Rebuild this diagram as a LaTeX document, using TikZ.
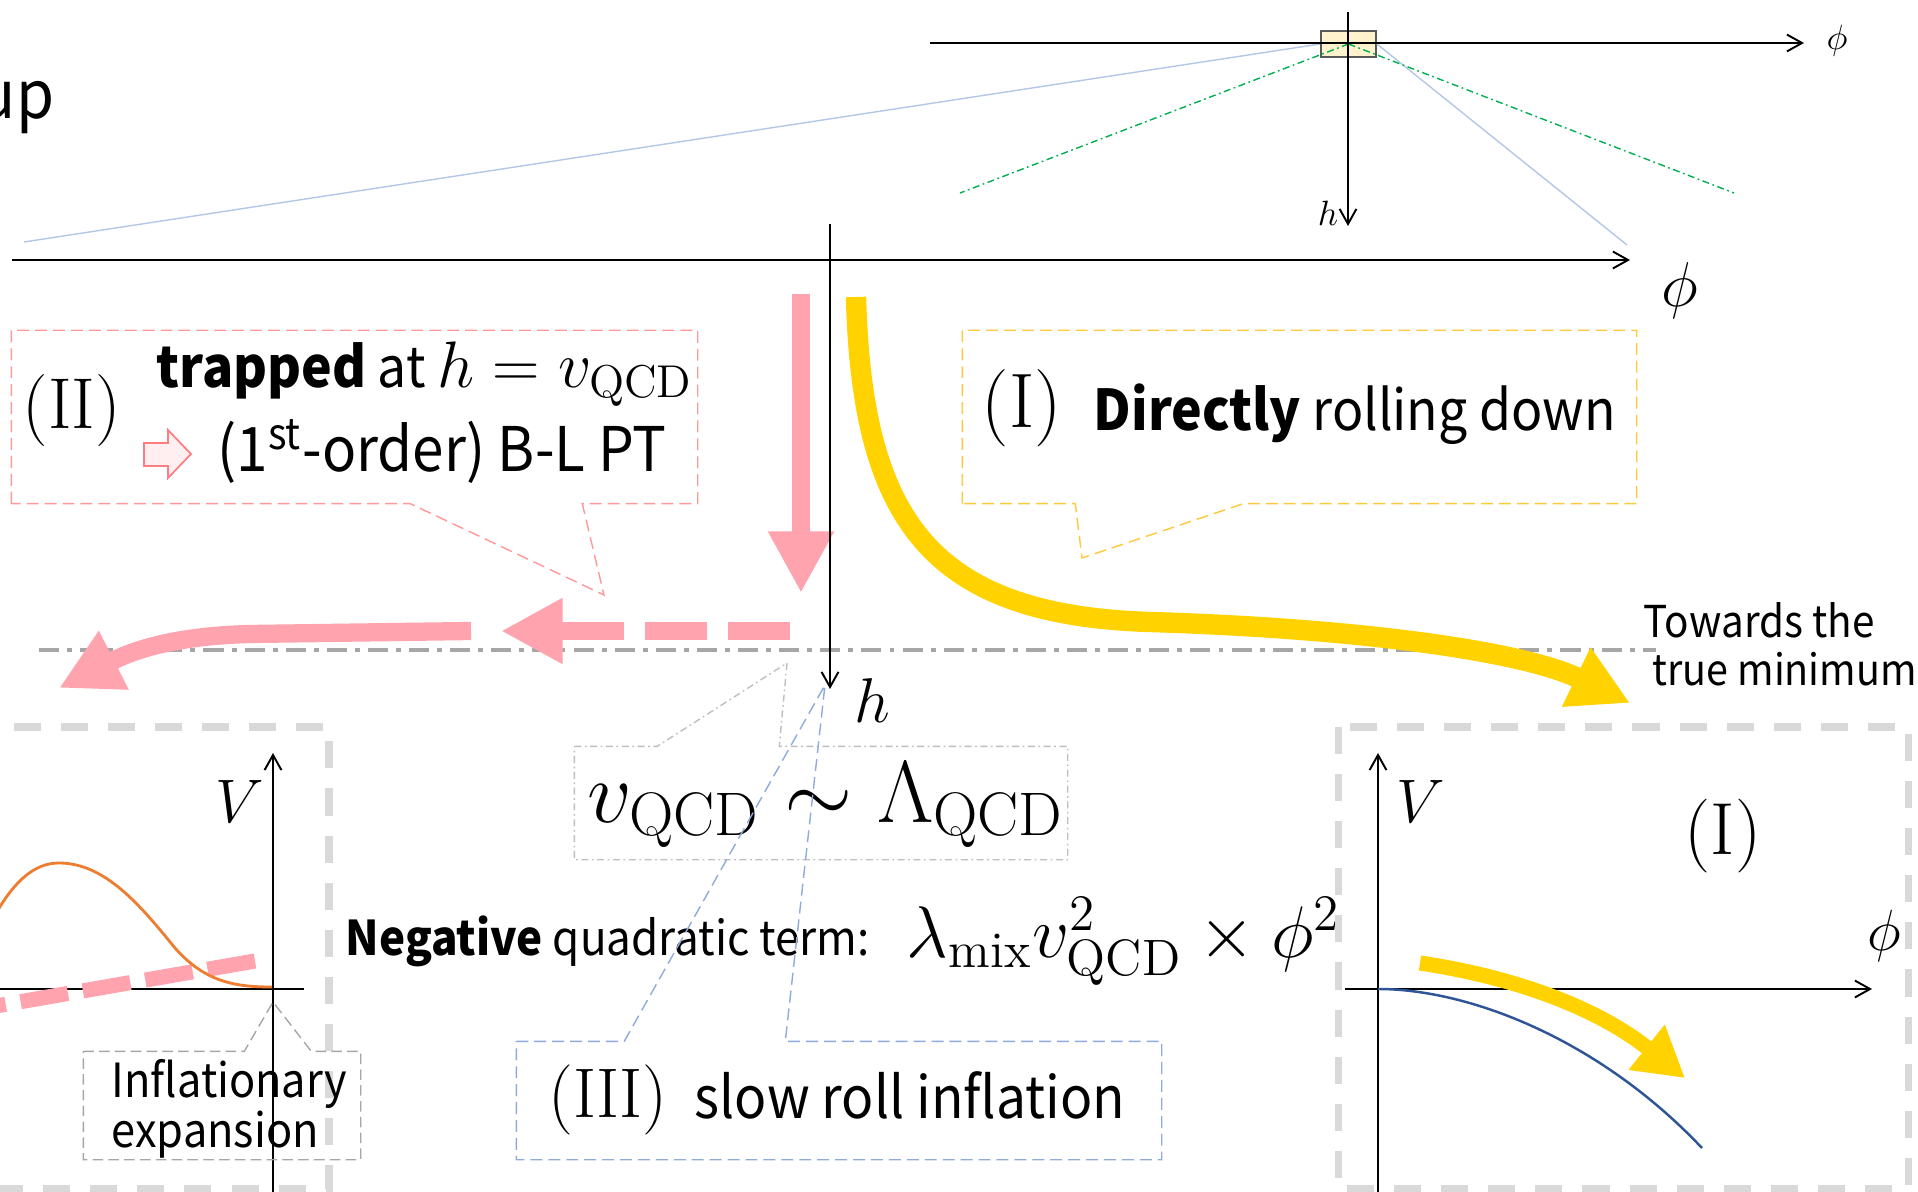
\RequirePackage{fix-cm}
\documentclass[tikz,border=0pt]{standalone}
\usepackage{fontspec}
\newfontfamily\jpsans{Noto Sans CJK JP}[FakeStretch=0.92]
\usetikzlibrary{arrows.meta}

\definecolor{inflrose}{HTML}{FFA3AF}
\definecolor{inflrosebord}{HTML}{FF9999}
\definecolor{inflrosevif}{HTML}{FF7C80}
\definecolor{inflrosepale}{HTML}{FFEFF1}
\definecolor{infljaune}{HTML}{FFD200}
\definecolor{infljaunebord}{HTML}{FFC93C}
\definecolor{inflbleu}{HTML}{8FAADC}
\definecolor{inflbleuclair}{HTML}{B4C7E7}
\definecolor{inflbleufonce}{HTML}{2F5597}
\definecolor{inflvert}{HTML}{00B050}
\definecolor{inflorange}{HTML}{ED7D31}
\definecolor{inflgris}{HTML}{A6A6A6}
\definecolor{inflgrisclair}{HTML}{D9D9D9}
\definecolor{inflgrismoyen}{HTML}{BFBFBF}
\definecolor{inflgrisfonce}{HTML}{595959}
\definecolor{inflcreme}{HTML}{FFF2CC}

\tikzset{
  axe/.style={line width=0.55pt, -{Straight Barb[length=4.3pt,width=4.8pt]}},
  flecherose/.style={draw=inflrose, line width=5.2pt, -{Triangle[length=17.5pt,width=17.5pt]}},
  flechejaune/.style={draw=infljaune, line width=5.8pt, -{Triangle[length=17pt,width=17.5pt]}},
  bulle/.style={draw=none, inner sep=0pt},
  cadre/.style={draw=inflgrisclair, line width=2pt, dash pattern=on 7.7pt off 5.7pt},
  sans/.style={font=\jpsans\fontsize{#1}{#1}\selectfont, inner sep=0pt},
  formule/.style={font=\fontsize{#1}{#1}\selectfont},
}

\begin{document}
\begin{tikzpicture}[x=0.1mm, y=-0.1mm]
\useasboundingbox (0,0) rectangle (1918,1192);
\clip (0,0) rectangle (1918,1192);
\fill[white] (0,0) rectangle (1918,1192);

\node[sans=19, anchor=base east] (titre) at (55,119) {up};

\node[draw=inflgrisfonce, fill=inflcreme, line width=0.5pt, minimum width=5.5mm, minimum height=2.6mm, inner sep=0pt] (loupe) at (1348.5,44) {};
\coordinate (coinG) at (24,242);
\coordinate (coinD) at (1627,245);
\coordinate (pointeG) at (960,193);
\coordinate (pointeD) at (1734,193);
\draw[inflbleuclair, line width=0.4pt] (loupe.west) -- (coinG) (loupe.east) -- (coinD);
\draw[inflvert, line width=0.4pt, dash pattern=on 2pt off 1pt on 0.5pt off 1pt] (loupe.center) -- (pointeG) (loupe.center) -- (pointeD);
\draw[axe] (930,43) -- (1804,43);
\draw[axe] (1348,12) -- (1348,226);
\node[formule=10] (phiH) at (1837,41) {$\phi$};
\node[formule=10] (hH) at (1328,213) {$h$};

\draw[inflgris, line width=1.2pt, dash pattern=on 5.7pt off 2.3pt on 1.4pt off 2.3pt] (39,650) -- (1656,650);

\node[bulle, minimum width=68.5mm, minimum height=17.2mm] (bulleII) at (354.5,417) {};
\coordinate (cibleII) at (604,595);
\draw[inflrosebord, line width=0.4pt, dash pattern=on 3.4pt off 1.7pt] (bulleII.south west) -- (bulleII.north west) -- (bulleII.north east) -- (bulleII.south east) -- ([xshift=57.1mm]bulleII.south west) -- (cibleII) -- ([xshift=39.9mm]bulleII.south west) -- cycle;
\node[formule=20.5, anchor=base west, inner sep=0pt] (numII) at (22,429) {$(\mathrm{II})$};
\node[sans=16, anchor=base west] (piege) at (156,388) {\textbf{trapped} at \fontsize{18.7}{18.7}\selectfont$h = v_{\mathrm{QCD}}$};
\draw[inflrosevif, fill=inflrosepale, line width=0.5pt] (144,443) -- (168,443) -- (168,430) -- (191,454) -- (168,478) -- (168,466) -- (144,466) -- cycle;
\node[sans=17.5, anchor=base west] (transition) at (217,472) {(1\textsuperscript{st}-order) B-L PT};

\node[bulle, minimum width=67.3mm, minimum height=17.2mm] (bulleI) at (1299.5,417) {};
\coordinate (cibleI) at (1082,558);
\draw[infljaunebord, line width=0.4pt, dash pattern=on 3.4pt off 1.7pt] (bulleI.south west) -- (bulleI.north west) -- (bulleI.north east) -- (bulleI.south east) -- ([xshift=28.1mm]bulleI.south west) -- (cibleI) -- ([xshift=11.3mm]bulleI.south west) -- cycle;
\node[formule=22, anchor=base west, inner sep=0pt] (numI) at (981,428) {$(\mathrm{I})$};
\node[sans=16, anchor=base west] (roule) at (1093,431) {\textbf{Directly} rolling down};

\node[sans=12.5, anchor=base west] (versA) at (1643,638) {Towards the};
\node[sans=12.2, anchor=base west] (versB) at (1652,685) {true minimum};

\node[bulle, minimum width=49.2mm, minimum height=11.2mm] (echelle) at (821,803) {};
\coordinate (cibleV) at (787,663);
\draw[inflgrismoyen, line width=0.4pt, dash pattern=on 2pt off 1pt on 0.5pt off 1pt] (echelle.north west) -- ([xshift=8.3mm]echelle.north west) -- (cibleV) -- ([xshift=20.5mm]echelle.north west) -- (echelle.north east) -- (echelle.south east) -- (echelle.south west) -- cycle;
\node[formule=25, anchor=base west, inner sep=0pt] (egal) at (587,822) {$v_{\mathrm{QCD}}\sim\Lambda_{\mathrm{QCD}}$};

\node[sans=13.6, anchor=base west] (terme) at (345,955) {\textbf{Negative} quadratic term:};
\node[formule=20.8, anchor=base west, inner sep=0pt] (melange) at (906,957) {$\lambda_{\mathrm{mix}}v_{\mathrm{QCD}}^2\times\phi^2$};

\node[bulle, minimum width=64.4mm, minimum height=11.7mm] (bulleIII) at (839,1100.5) {};
\coordinate (cibleIII) at (825,685);
\draw[inflbleu, line width=0.4pt, dash pattern=on 3.4pt off 1.7pt] (bulleIII.north west) -- ([xshift=10.8mm]bulleIII.north west) -- (cibleIII) -- ([xshift=26.9mm]bulleIII.north west) -- (bulleIII.north east) -- (bulleIII.south east) -- (bulleIII.south west) -- cycle;
\node[formule=20, anchor=base west, inner sep=0pt] (numIII) at (548,1117) {$(\mathrm{III})$};
\node[sans=16.5, anchor=base west] (lent) at (694,1118) {slow roll inflation};

\coordinate (departR) at (801,294);
\coordinate (fondR) at (801,593);
\draw[flecherose] (departR) -- (fondR);
\draw[flecherose, dash pattern=on 17.6pt off 6pt] (790,631) -- (501,631);
\draw[flecherose] (471,631) -- (250,634) .. controls (170,636) and (130,652) .. (59,688);
\draw[flechejaune] (856,297) .. controls (862,520) and (930,615) .. (1150,622) .. controls (1350,628) and (1520,650) .. (1630,703);

\draw[axe] (12,260) -- (1630,260);
\draw[axe] (830,224) -- (830,689);
\node[formule=18] (phiG) at (1680,291) {$\phi$};
\node[formule=18, inner sep=0pt] (hG) at (872,701) {$h$};

\draw[cadre] (-60,727) rectangle (329,1189);
\draw[line width=0.55pt] (-10,989) -- (304,989);
\draw[axe] (273,1200) -- (273,753);
\node[formule=17.5] (VG) at (240,801) {$V$};
\draw[inflrose, line width=4.3pt, dash pattern=on 13.7pt off 4.3pt] (255,961) -- (-10,1007);
\draw[inflorange, line width=0.8pt] (-5,915) .. controls (15,880) and (35,863) .. (59,863) .. controls (105,863) and (140,905) .. (175,948) .. controls (205,982) and (235,987) .. (272,987);
\node[bulle, minimum width=27.6mm, minimum height=10.7mm] (bulleInf) at (222,1105.5) {};
\coordinate (origineG) at (273,1002);
\draw[inflgris, line width=0.4pt, dash pattern=on 3pt off 1.5pt] (bulleInf.north west) -- ([xshift=16.1mm]bulleInf.north west) -- (origineG) -- ([xshift=22.8mm]bulleInf.north west) -- (bulleInf.north east) -- (bulleInf.south east) -- (bulleInf.south west) -- cycle;
\node[sans=13.4, anchor=base west] (expA) at (111,1097) {Inflationary};
\node[sans=13.4, anchor=base west] (expB) at (111,1147) {expansion};

\draw[cadre] (1338,727) rectangle (1908,1189);
\draw[axe] (1345,989) -- (1872,989);
\draw[axe] (1378,1200) -- (1378,753);
\node[formule=17.5] (VD) at (1421,801) {$V$};
\node[formule=16.5] (phiD) at (1884,936) {$\phi$};
\node[formule=21] (numID) at (1723,836) {$(\mathrm{I})$};
\draw[inflbleufonce, line width=0.7pt] (1378,989) .. controls (1470,989) and (1600,1040) .. (1702,1148);
\draw[flechejaune, line width=4.3pt, -{Triangle[length=14pt,width=15.5pt]}] (1420,963) .. controls (1520,978) and (1600,1010) .. (1685,1078);
\end{tikzpicture}
\end{document}
